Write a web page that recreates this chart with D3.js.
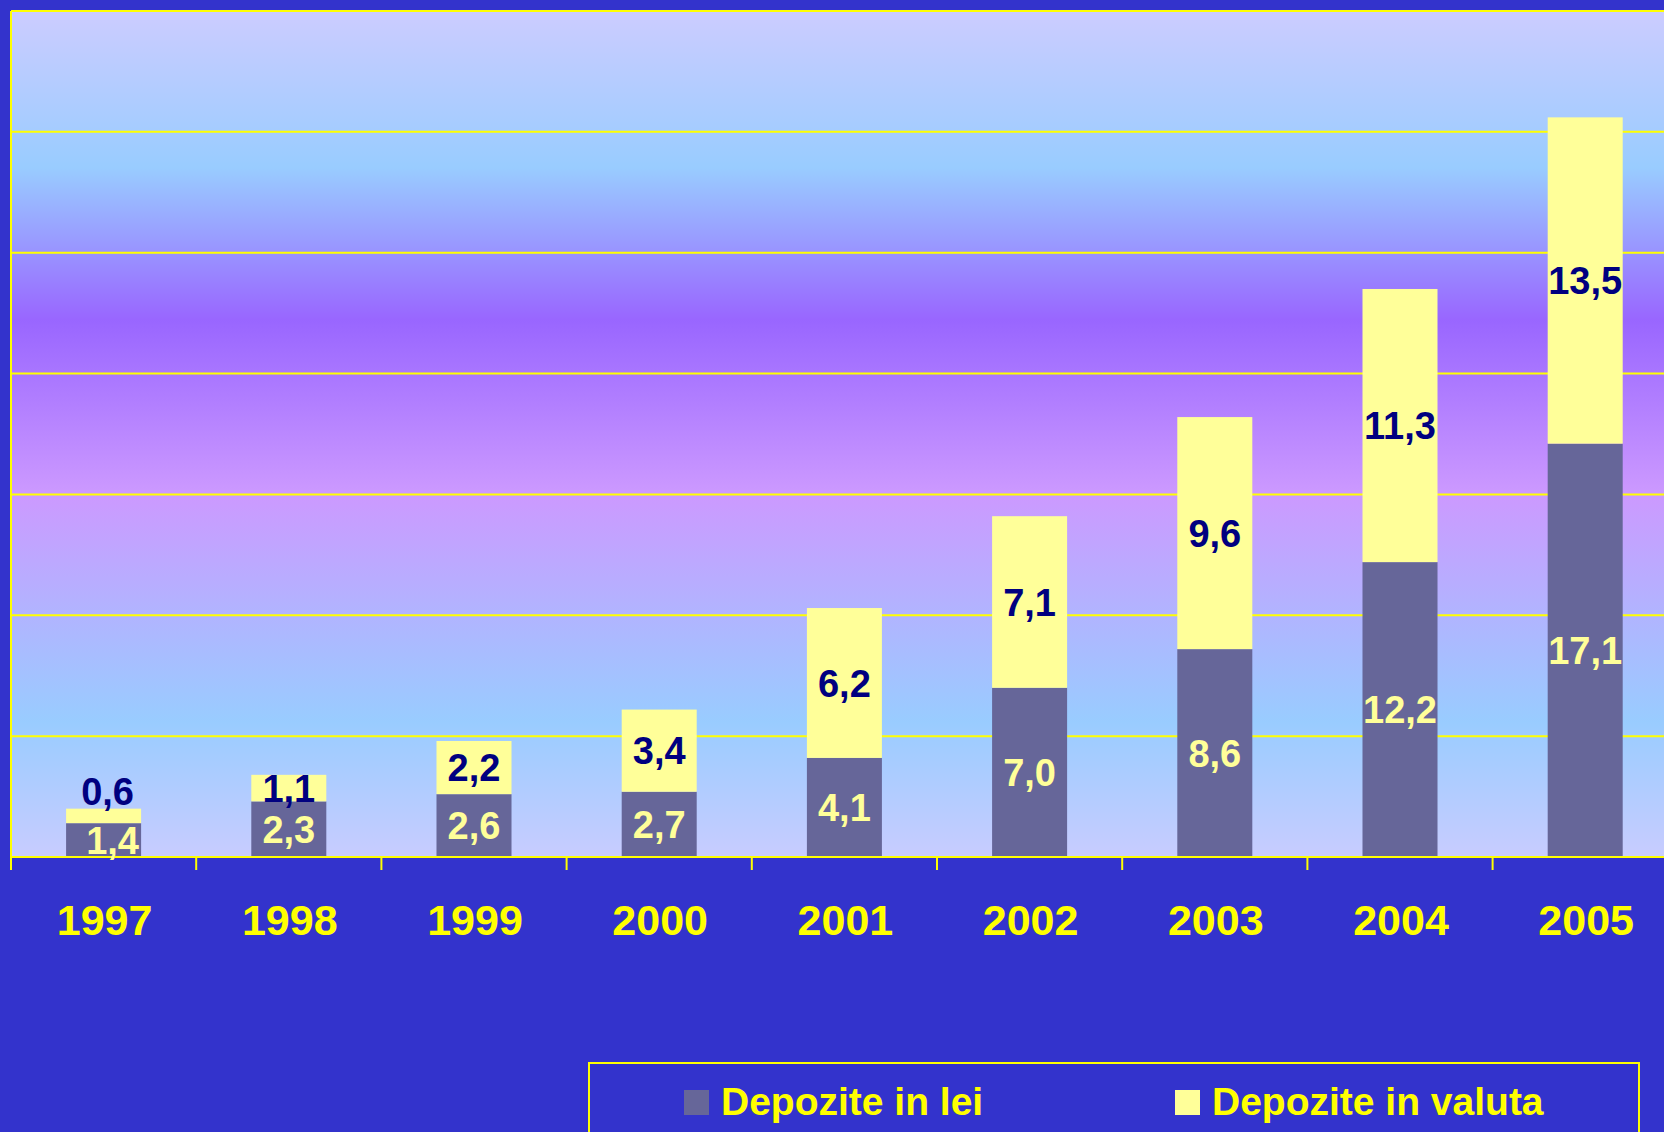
<!DOCTYPE html>
<html>
<head>
<meta charset="utf-8">
<script src="https://cdn.jsdelivr.net/npm/d3@7"></script>
<style>
  html, body { margin: 0; padding: 0; background: #3333cc; overflow: hidden; }
  svg { display: block; }
  text { font-family: "Liberation Sans", Arial, Helvetica, sans-serif; font-weight: bold; }
</style>
</head>
<body>
<svg id="chart" width="1664" height="1132"></svg>
<script>
// ---- data ----
const years = ["1997", "1998", "1999", "2000", "2001", "2002", "2003", "2004", "2005"];
const depoziteLei = [1.4, 2.3, 2.6, 2.7, 4.1, 7.0, 8.6, 12.2, 17.1];
const depoziteValuta = [0.6, 1.1, 2.2, 3.4, 6.2, 7.1, 9.6, 11.3, 13.5];
const seriesNames = ["Depozite in lei", "Depozite in valuta"];
const yMax = 35;
const yTickCount = 7;

// ---- layout ----
const W = 1664, H = 1132;
const plotLeft = 11, plotTop = 11, plotBottom = 857;
const step = 185.2;
const plotRight = plotLeft + step * years.length;
const colLei = "#666699", colValuta = "#ffff99";
const gridCol = "#ffff00";

const svg = d3.select("#chart");

// gradient
const defs = svg.append("defs");
const grad = defs.append("linearGradient")
  .attr("id", "bg").attr("gradientUnits", "userSpaceOnUse")
  .attr("x1", 0).attr("x2", 0).attr("y1", plotTop).attr("y2", plotBottom);
[[0, "#ccccff"], [0.185, "#99ccff"], [0.365, "#9966ff"], [0.57, "#cc99ff"], [0.84, "#99ccff"], [1, "#c8ccff"]]
  .forEach(([o, c]) => grad.append("stop").attr("offset", o).attr("stop-color", c));

const x = d3.scaleBand().domain(years).range([plotLeft, plotRight])
  .paddingInner(0.595).paddingOuter(0.2975);
const y = d3.scaleLinear().domain([0, yMax]).range([plotBottom, plotTop]);

svg.append("rect").attr("x", plotLeft).attr("y", plotTop)
  .attr("width", plotRight - plotLeft).attr("height", plotBottom - plotTop)
  .attr("fill", "url(#bg)");

// gridlines (incl. top border)
const ticks = y.ticks(yTickCount).filter(t => t > 0);
svg.append("g").selectAll("line").data(ticks).join("line")
  .attr("x1", plotLeft).attr("x2", plotRight)
  .attr("y1", d => y(d)).attr("y2", d => y(d))
  .attr("stroke", gridCol).attr("stroke-width", 2);

// left axis line
svg.append("line").attr("x1", plotLeft).attr("x2", plotLeft)
  .attr("y1", y(yMax)).attr("y2", y(0)).attr("stroke", gridCol).attr("stroke-width", 2);

// bars
const data = years.map((yr, i) => ({ yr, lei: depoziteLei[i], val: depoziteValuta[i] }));
const bw = x.bandwidth();
const g = svg.append("g");
g.selectAll("rect.lei").data(data).join("rect").attr("class", "lei")
  .attr("x", d => x(d.yr)).attr("width", bw)
  .attr("y", d => y(d.lei)).attr("height", d => y(0) - y(d.lei))
  .attr("fill", colLei);
g.selectAll("rect.val").data(data).join("rect").attr("class", "val")
  .attr("x", d => x(d.yr)).attr("width", bw)
  .attr("y", d => y(d.lei + d.val)).attr("height", d => y(d.lei) - y(d.lei + d.val))
  .attr("fill", colValuta);

// x axis line + ticks
svg.append("line").attr("x1", plotLeft).attr("x2", plotRight)
  .attr("y1", y(0)).attr("y2", y(0)).attr("stroke", gridCol).attr("stroke-width", 2);
const bounds = years.map(yr => x(yr) + bw / 2 - x.step() / 2);
svg.append("g").selectAll("line").data(bounds).join("line")
  .attr("x1", d => d).attr("x2", d => d)
  .attr("y1", y(0)).attr("y2", y(0) + 13)
  .attr("stroke", gridCol).attr("stroke-width", 2);

// year labels
svg.append("g").selectAll("text").data(years).join("text")
  .attr("x", d => x(d) + bw / 2 + 1).attr("y", 935)
  .attr("text-anchor", "middle").attr("font-size", 43).attr("fill", "#ffff00")
  .text(d => d);

// value labels
const fmt = v => v.toFixed(1).replace(".", ",");
const lblSize = 38, capHalf = 0.716 * lblSize / 2;
svg.append("g").selectAll("text").data(data).join("text")
  .attr("x", (d, i) => x(d.yr) + bw / 2 + (i === 0 ? 9 : 0))
  .attr("y", d => (y(0) + y(d.lei)) / 2 + capHalf)
  .attr("text-anchor", "middle").attr("font-size", lblSize).attr("fill", "#ffff99")
  .text(d => fmt(d.lei));
svg.append("g").selectAll("text").data(data).join("text")
  .attr("x", (d, i) => x(d.yr) + bw / 2 + (i === 0 ? 4 : 0))
  .attr("y", d => {
    const top = y(d.lei + d.val), bot = y(d.lei);
    if (bot - top < 20) return top - 4;
    return (top + bot) / 2 + capHalf;
  })
  .attr("text-anchor", "middle").attr("font-size", lblSize).attr("fill", "#000080")
  .text(d => fmt(d.val));

// legend
svg.append("rect").attr("x", 589).attr("y", 1063).attr("width", 1050).attr("height", 120)
  .attr("fill", "none").attr("stroke", gridCol).attr("stroke-width", 2);
const legX = [684, 1175];
const legCols = [colLei, colValuta];
const lg = svg.append("g").selectAll("g").data(seriesNames).join("g");
lg.append("rect").attr("x", (d, i) => legX[i]).attr("y", 1090).attr("width", 25).attr("height", 25)
  .attr("fill", (d, i) => legCols[i]);
lg.append("text").attr("x", (d, i) => legX[i] + 37).attr("y", 1115)
  .attr("font-size", 39).attr("fill", "#ffff00").text(d => d);
</script>
</body>
</html>
